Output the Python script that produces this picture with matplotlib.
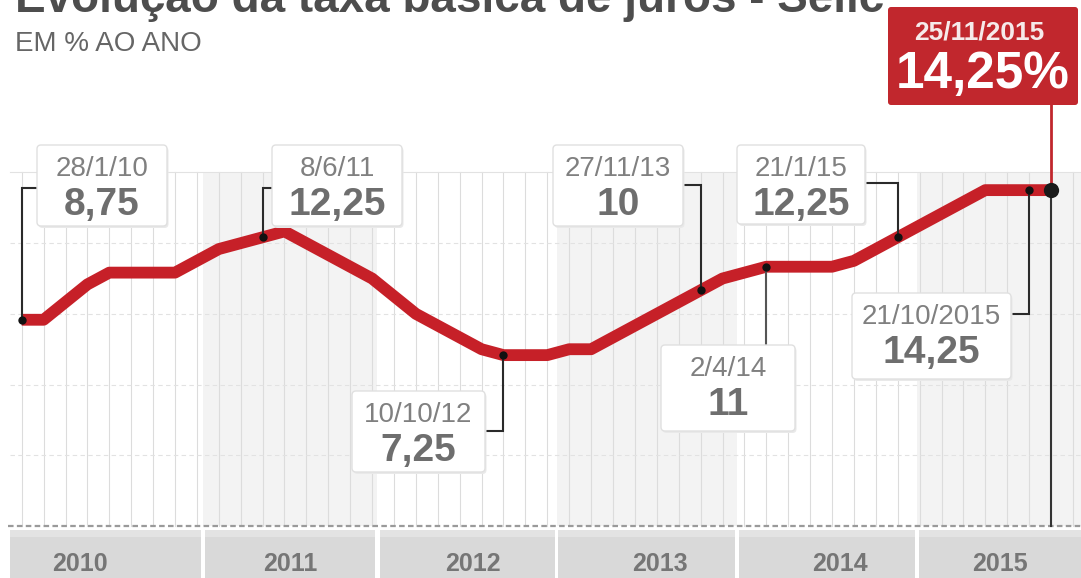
import matplotlib
matplotlib.use("Agg")
import matplotlib.pyplot as plt
from matplotlib.patches import FancyBboxPatch, Rectangle

plt.rcParams['font.family'] = ['Liberation Sans', 'DejaVu Sans']

# ---------------- data ----------------
title = "Evolução da taxa básica de juros - Selic"
subtitle = "EM % AO ANO"
years = ["2010", "2011", "2012", "2013", "2014", "2015"]
# Selic target after each Copom meeting (8 meetings per year), % per year
selic = [8.75, 8.75, 9.50, 10.25, 10.75, 10.75, 10.75, 10.75,
         11.25, 11.75, 12.00, 12.25, 12.50, 12.00, 11.50, 11.00,
         10.50, 9.75, 9.00, 8.50, 8.00, 7.50, 7.25, 7.25,
         7.25, 7.50, 7.50, 8.00, 8.50, 9.00, 9.50, 10.00,
         10.50, 10.75, 11.00, 11.00, 11.00, 11.00, 11.25, 11.75,
         12.25, 12.75, 13.25, 13.75, 14.25, 14.25, 14.25, 14.25]
ann_dates = ["28/1/10", "8/6/11", "10/10/12", "27/11/13", "2/4/14", "21/1/15", "21/10/2015"]
ann_idx = [0, 11, 22, 31, 34, 40, 46]
hl_date = "25/11/2015"
hl_idx = 47
grid_levels = [3, 6, 9, 12, 15]


def fmt(v):
    s = f"{v:.2f}".rstrip('0').rstrip('.')
    return s.replace('.', ',')

# ---------------- layout helpers (pixel -> data) ----------------
W, H = 1081, 578
X0, DX = 21.7, 21.9
Y0, DY = 526.0, 23.57


def px_x(p):
    return (p - X0) / DX


def px_y(p):
    return (Y0 - p) / DY

fig = plt.figure(figsize=(W / 100, H / 100), dpi=100)
fig.patch.set_facecolor('white')
ax = fig.add_axes([0, 0, 1, 1])
ax.set_xlim(px_x(0), px_x(W))
ax.set_ylim(px_y(H), px_y(0))
ax.axis('off')

xs = list(range(len(selic)))
top = grid_levels[-1]

# year shading (alternate years)
edges = [10, 203, 377.5, 556.5, 737, 917, W]
for k in range(len(years)):
    if k % 2 == 1:
        ax.fill_between([px_x(edges[k]), px_x(edges[k + 1])], 0, top,
                        color='#f3f3f3', lw=0, zorder=0)

# vertical grid (one line per meeting)
for i in range(len(selic) + 1):
    ax.plot([i, i], [0, top], color='#dcdcdc', lw=0.8, zorder=1)

# horizontal grid
for g in grid_levels:
    ax.plot([px_x(10), px_x(W)], [g, g], color='#e2e2e2', lw=0.8,
            ls=(0, (4, 3)) if g != top else '-', zorder=1)
ax.plot([px_x(8), px_x(W)], [0, 0], color='#9a9a9a', lw=1.6,
        ls=(0, (2.5, 1.5)), zorder=2)

# main line
ax.plot(xs, selic, color='#c62028', lw=8.5, solid_joinstyle='round',
        solid_capstyle='butt', zorder=5)

# annotation boxes geometry (pixels): x0, y0, x1, y1, connector y, side
boxes = [
    (37, 145, 167, 226, 188, 'left'),
    (272, 145, 402, 226, 188, 'left'),
    (352, 391, 485, 472, 431, 'right'),
    (553, 145, 683, 226, 185, 'right'),
    (661, 345, 795, 431, None, 'top'),
    (737, 145, 865, 224, 183, 'right'),
    (852, 293, 1011, 379, 314, 'right'),
]

conn_color = '#2a2a2a'
for (bx0, by0, bx1, by1, cy, side), i in zip(boxes, ann_idx):
    v = selic[i]
    if side == 'left':
        ax.plot([px_x(bx0), i, i], [px_y(cy), px_y(cy), v], color=conn_color,
                lw=1.5, zorder=6, solid_joinstyle='miter')
    elif side == 'right':
        ax.plot([px_x(bx1), i, i], [px_y(cy), px_y(cy), v], color=conn_color,
                lw=1.5, zorder=6, solid_joinstyle='miter')
    else:
        ax.plot([i, i], [v, px_y(by0)], color='#555555', lw=1.5, zorder=6)

ax.plot(ann_idx, [selic[i] for i in ann_idx], 'o', color='#111111', ms=6,
        mec='none', zorder=7)

# highlight connectors and dot
ax.plot([hl_idx, hl_idx], [px_y(105), selic[hl_idx]], color='#c1272d', lw=2, zorder=6)
ax.plot([hl_idx, hl_idx], [selic[hl_idx], 0], color='#333333', lw=1.5, zorder=6)
ax.plot([hl_idx], [selic[hl_idx]], 'o', color='#1a1a1a', ms=11, mec='none', zorder=8)

# ---------------- overlay (pixel coordinates) ----------------
ov = fig.add_axes([0, 0, 1, 1])
ov.set_xlim(0, W)
ov.set_ylim(H, 0)
ov.axis('off')
ov.patch.set_alpha(0)

for (bx0, by0, bx1, by1, cy, side), i, d in zip(boxes, ann_idx, ann_dates):
    w, h = bx1 - bx0, by1 - by0
    ov.add_patch(FancyBboxPatch((bx0 + 1.5, by0 + 2), w, h,
                                boxstyle='round,pad=0,rounding_size=4',
                                fc='#e9e9e9', ec='none', zorder=2))
    ov.add_patch(FancyBboxPatch((bx0, by0), w, h,
                                boxstyle='round,pad=0,rounding_size=4',
                                fc='white', ec='#e0e0e0', lw=1, zorder=3))
    cx = (bx0 + bx1) / 2
    ov.text(cx, by0 + 31, d, ha='center', va='baseline', fontsize=20,
            color='#808080', zorder=4)
    ov.text(cx, by0 + 70, fmt(selic[i]), ha='center', va='baseline', fontsize=28,
            fontweight='bold', color='#6e6e6e', zorder=4)

# highlight red box
rx0, ry0, rx1, ry1 = 888, 7, 1078, 105
ov.add_patch(FancyBboxPatch((rx0, ry0), rx1 - rx0, ry1 - ry0,
                            boxstyle='round,pad=0,rounding_size=3',
                            fc='#c1272d', ec='none', zorder=3))
rcx = (rx0 + rx1) / 2
ov.text(rcx - 4, 40, hl_date, ha='center', va='baseline', fontsize=19,
        fontweight='bold', color='#f6eaea', zorder=4)
ov.text(rcx, 88, fmt(selic[hl_idx]) + "%", ha='center', va='baseline', fontsize=37,
        fontweight='bold', color='white', zorder=4)

# title / subtitle
ov.text(15, 12, title, ha='left', va='baseline', fontsize=33, fontweight='bold',
        color='#4d4d4d')
ov.text(15, 51, subtitle, ha='left', va='baseline', fontsize=20, color='#666666')

# year band at bottom
band_x = [10, 205, 380, 558, 739, 919, W]
band_right = [201, 375, 555, 735, 915, W]
label_cx = [80, 290, 473, 660, 840, 1000]
for k, y in enumerate(years):
    x0b, x1b = band_x[k], band_right[k]
    ov.add_patch(Rectangle((x0b, 530), x1b - x0b, H - 530, fc='#d9d9d9', ec='none'))
    ov.add_patch(Rectangle((x0b, 530), x1b - x0b, 7, fc='#e3e3e3', ec='none'))
    ov.text(label_cx[k], 571, y, ha='center', va='baseline', fontsize=18,
            fontweight='bold', color='#767676')

fig.savefig("out.png", dpi=100, facecolor='white')
